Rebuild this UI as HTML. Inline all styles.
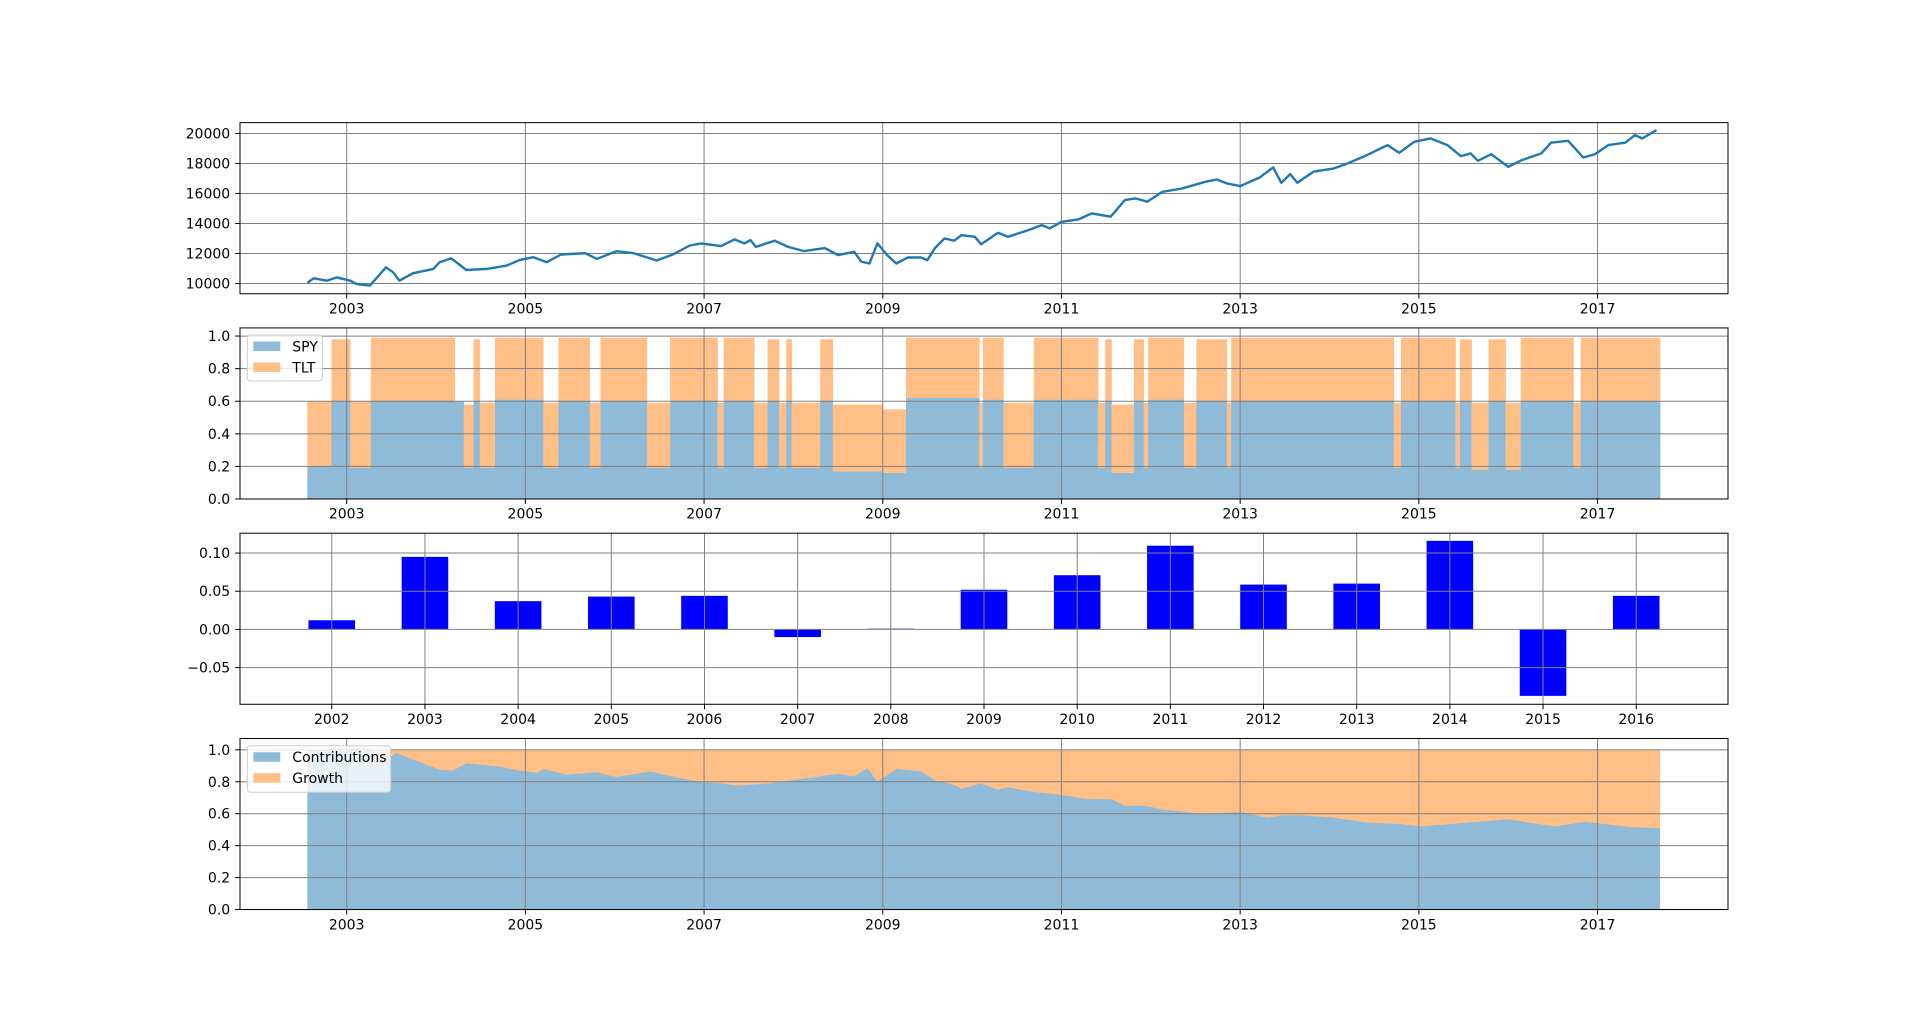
<!DOCTYPE html>
<html><head><meta charset="utf-8">
<style>
html,body{margin:0;padding:0;background:#fff;}
svg{display:block;font-family:"DejaVu Sans","Liberation Sans",sans-serif;}
</style></head>
<body>
<svg id="chart" width="1920" height="1022" viewBox="0 0 1920 1022" xmlns="http://www.w3.org/2000/svg"></svg>
<script>
// ---- Panel 1: portfolio value ----
const valueYears = [2002.56,2002.63,2002.78,2002.89,2003.04,2003.11,2003.26,2003.44,2003.52,2003.59,2003.74,2003.97,2004.04,2004.17,2004.34,2004.57,2004.79,2004.94,2005.09,2005.24,2005.40,2005.67,2005.80,2006.02,2006.21,2006.47,2006.65,2006.84,2006.97,2007.19,2007.34,2007.45,2007.52,2007.58,2007.79,2007.94,2008.12,2008.35,2008.50,2008.68,2008.76,2008.85,2008.94,2009.05,2009.15,2009.28,2009.43,2009.50,2009.58,2009.69,2009.80,2009.88,2010.03,2010.10,2010.29,2010.40,2010.63,2010.78,2010.87,2011.00,2011.19,2011.34,2011.55,2011.71,2011.83,2011.96,2012.13,2012.35,2012.61,2012.74,2012.85,2013.00,2013.22,2013.37,2013.46,2013.56,2013.64,2013.82,2014.05,2014.20,2014.42,2014.65,2014.78,2014.95,2015.13,2015.32,2015.47,2015.58,2015.66,2015.81,2016.00,2016.15,2016.37,2016.48,2016.67,2016.84,2016.97,2017.12,2017.31,2017.42,2017.50,2017.66];
const portfolioValues = [10040,10350,10190,10410,10190,9970,9860,11080,10750,10190,10680,10970,11420,11680,10900,10970,11190,11570,11750,11420,11930,12020,11640,12150,12020,11530,11930,12530,12670,12490,12940,12670,12890,12440,12850,12440,12160,12360,11890,12110,11450,11330,12670,11890,11330,11730,11730,11560,12330,13000,12850,13220,13110,12620,13380,13110,13560,13890,13670,14110,14270,14670,14450,15560,15670,15450,16110,16330,16780,16930,16670,16490,17070,17740,16710,17290,16710,17450,17670,18000,18560,19220,18710,19450,19670,19220,18490,18670,18180,18620,17780,18220,18670,19380,19510,18400,18620,19220,19380,19890,19670,20220];
const valueTicks = [10000,12000,14000,16000,18000,20000];
const valueTickLabels = ["10000","12000","14000","16000","18000","20000"];
// ---- Panel 2: allocation regimes (segment start, SPY weight, TLT weight) ----
const allocStart = [2002.56,2002.83,2003.04,2003.27,2004.21,2004.31,2004.42,2004.49,2004.66,2005.20,2005.37,2005.72,2005.84,2006.36,2006.62,2007.15,2007.22,2007.56,2007.71,2007.84,2007.92,2007.98,2008.30,2008.44,2009.00,2009.26,2010.08,2010.12,2010.35,2010.69,2011.41,2011.49,2011.56,2011.81,2011.92,2011.97,2012.37,2012.51,2012.85,2012.90,2014.72,2014.80,2015.41,2015.46,2015.59,2015.78,2015.97,2016.14,2016.73,2016.81];
const allocEnd = 2017.70;
const spyWeight = [0.20,0.60,0.19,0.60,0.60,0.19,0.60,0.19,0.61,0.19,0.60,0.19,0.60,0.19,0.60,0.19,0.60,0.19,0.60,0.19,0.60,0.19,0.60,0.17,0.16,0.62,0.19,0.61,0.19,0.61,0.19,0.60,0.16,0.60,0.19,0.61,0.19,0.60,0.19,0.60,0.19,0.60,0.19,0.60,0.18,0.60,0.18,0.60,0.19,0.60];
const tltWeight = [0.40,0.38,0.41,0.39,0.00,0.39,0.38,0.40,0.38,0.40,0.39,0.40,0.39,0.40,0.39,0.40,0.39,0.40,0.38,0.40,0.38,0.40,0.38,0.41,0.39,0.37,0.40,0.38,0.40,0.38,0.40,0.38,0.42,0.38,0.40,0.38,0.40,0.38,0.40,0.39,0.40,0.39,0.40,0.38,0.41,0.38,0.41,0.39,0.40,0.39];
const allocTicks = [0,0.2,0.4,0.6,0.8,1.0];
const allocTickLabels = ["0.0","0.2","0.4","0.6","0.8","1.0"];
// ---- Panel 3: annual returns ----
const returnYears = ["2002","2003","2004","2005","2006","2007","2008","2009","2010","2011","2012","2013","2014","2015","2016"];
const annualReturns = [0.012,0.095,0.037,0.043,0.044,-0.010,0.001,0.052,0.071,0.1096,0.0587,0.060,0.116,-0.087,0.044];
const returnTicks = [-0.05,0,0.05,0.10];
const returnTickLabels = ["\u22120.05","0.00","0.05","0.10"];
// ---- Panel 4: contributions vs growth ----
const contribYears = [2002.56,2003.23,2003.44,2003.56,2003.74,2004.04,2004.19,2004.34,2004.71,2004.94,2005.13,2005.20,2005.46,2005.80,2006.02,2006.40,2006.70,2006.96,2007.19,2007.36,2007.74,2008.12,2008.50,2008.68,2008.83,2008.94,2009.15,2009.43,2009.58,2009.80,2009.88,2010.10,2010.29,2010.40,2010.70,2010.96,2011.30,2011.56,2011.71,2011.93,2012.15,2012.48,2012.55,2013.02,2013.30,2013.48,2013.67,2014.05,2014.42,2014.80,2015.02,2015.47,2016.00,2016.52,2016.86,2017.38,2017.70];
const contribShare = [1.0,1.01,0.94,0.98,0.94,0.875,0.87,0.915,0.895,0.87,0.855,0.88,0.845,0.86,0.83,0.865,0.825,0.80,0.79,0.775,0.79,0.82,0.85,0.835,0.885,0.80,0.88,0.865,0.81,0.78,0.755,0.79,0.75,0.765,0.735,0.72,0.69,0.69,0.65,0.65,0.625,0.605,0.60,0.61,0.575,0.59,0.59,0.575,0.545,0.535,0.52,0.54,0.565,0.52,0.55,0.515,0.51];
const dateTicks = [2003,2005,2007,2009,2011,2013,2015,2017];

const NS="http://www.w3.org/2000/svg";
const svg=document.getElementById('chart');
function mk(tag,attrs,parent){const e=document.createElementNS(NS,tag);for(const k in attrs)e.setAttribute(k,attrs[k]);(parent||svg).appendChild(e);return e;}
const L=240,R=1728;
const panels=[{t:122.64,b:293.71},{t:327.92,b:498.99},{t:533.2,b:704.27},{t:738.48,b:909.55}];
const xDate=y=>L+(y-2001.806)/(2018.46-2001.806)*(R-L);
const xIdx=i=>L+(i+0.985)/(14.985+0.985)*(R-L);
function yScale(p,lo,hi){return v=>p.b-(v-lo)/(hi-lo)*(p.b-p.t);}
const grid='#808080';

function drawAxes(g,p,xticks,xfn,xlabels,yticks,yfn,ylabels){
  xticks.forEach((t,i)=>{const x=xfn(t);
    const gl=mk('line',{x1:x,x2:x,y1:p.t,y2:p.b,stroke:grid,'stroke-width':1},g);
    
    
    mk('line',{x1:x,x2:x,y1:p.b,y2:p.b+4.9,stroke:'#000','stroke-width':1},g);
    const tx=mk('text',{x:x,y:p.b+19.7,'text-anchor':'middle','font-size':14,fill:'#000'},g);
    tx.textContent=xlabels[i];
    
    
  });
  yticks.forEach((t,i)=>{const y=yfn(t);
    const gl=mk('line',{x1:L,x2:R,y1:y,y2:y,stroke:grid,'stroke-width':1},g);
    
    
    mk('line',{x1:L-4.9,x2:L,y1:y,y2:y,stroke:'#000','stroke-width':1},g);
    const tx=mk('text',{x:L-9.8,y:y+5,'text-anchor':'end','font-size':14,fill:'#000'},g);
    tx.textContent=ylabels[i];
    
    
  });
  const fr=mk('rect',{x:L,y:p.t,width:R-L,height:p.b-p.t,fill:'none',stroke:'#000','stroke-width':1},g);
  
  
}
function legend(g,x,y,w,h,items){
  const bx=mk('rect',{x:x,y:y,width:w,height:h,rx:3,fill:'#fff','fill-opacity':0.8,stroke:'#ccc','stroke-width':1},g);
  
  
  items.forEach((it,i)=>{
    const yy=y+6.5+i*21;
    const r=mk('rect',{x:x+6,y:yy,width:27,height:9.5,fill:it.c},g);
    
    
    const t=mk('text',{x:x+45,y:yy+10,'font-size':14,fill:'#000'},g);
    t.textContent=it.n;
    
    
  });
}
const blueA='#8fbbd9', orangeA='#ffbf86';
const dlabels=dateTicks.map(String);

// Panel 1
{const p=panels[0];const g=mk('g',{});
 const ys=yScale(p,9320,20720);
 drawAxes(g,p,dateTicks,xDate,dlabels,valueTicks,ys,valueTickLabels);
 const pts=valueYears.map((y,i)=>xDate(y).toFixed(1)+','+ys(portfolioValues[i]).toFixed(1)).join(' ');
 const pl=mk('polyline',{points:pts,fill:'none',stroke:'#1f77b4','stroke-width':2.4,'stroke-linejoin':'round'},g);
 
 }

// Panel 2
{const p=panels[1];const g=mk('g',{});
 const ys=yScale(p,0,1.05);
 const ga=mk('g',{},g);
 allocStart.forEach((s,i)=>{const e=i+1<allocStart.length?allocStart[i+1]:allocEnd;
   const x0=xDate(s),x1=xDate(e);
   const b=mk('rect',{x:x0,y:ys(spyWeight[i]),width:x1-x0+0.3,height:ys(0)-ys(spyWeight[i]),fill:blueA},ga);
   
   
   if(tltWeight[i]>0){const top=spyWeight[i]+tltWeight[i];
     const o=mk('rect',{x:x0,y:ys(top),width:x1-x0+0.3,height:ys(spyWeight[i])-ys(top),fill:orangeA},ga);
     
     }
 });
 drawAxes(g,p,dateTicks,xDate,dlabels,allocTicks,ys,allocTickLabels);
 legend(g,247.3,335,75,46,[{n:'SPY',c:blueA},{n:'TLT',c:orangeA}]);}

// Panel 3
{const p=panels[2];const g=mk('g',{});
 const ys=yScale(p,-0.098,0.126);
 annualReturns.forEach((v,i)=>{const x=xIdx(i-0.25),w=xIdx(0.25)-xIdx(-0.25);
   const y0=ys(Math.max(v,0)),y1=ys(Math.min(v,0));
   const r=mk('rect',{x:x,y:y0,width:w,height:y1-y0,fill:'#0000ff'},g);
   
   });
 drawAxes(g,p,returnYears.map((_,i)=>i),xIdx,returnYears,returnTicks,ys,returnTickLabels);}

// Panel 4
{const p=panels[3];const g=mk('g',{});
 const ys=yScale(p,0,1.071);
 const x0=xDate(contribYears[0]),x1=xDate(contribYears[contribYears.length-1]);
 const o=mk('rect',{x:x0,y:ys(1),width:x1-x0,height:ys(0)-ys(1),fill:orangeA},g);
 
 
 let d='M'+x0+','+ys(0);
 contribYears.forEach((y,i)=>{d+=' L'+xDate(y).toFixed(1)+','+ys(contribShare[i]).toFixed(1);});
 d+=' L'+x1+','+ys(0)+' Z';
 const a=mk('path',{d:d,fill:blueA},g);
 
 
 drawAxes(g,p,dateTicks,xDate,dlabels,allocTicks,ys,allocTickLabels);
 legend(g,247.3,745.7,143.4,46.6,[{n:'Contributions',c:blueA},{n:'Growth',c:orangeA}]);}
</script>
</body></html>
